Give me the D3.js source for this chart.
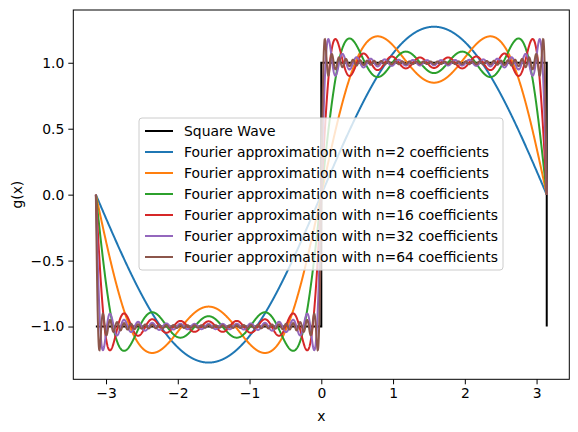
<!DOCTYPE html>
<html><head><meta charset="utf-8">
<script src="https://d3js.org/d3.v7.min.js"></script>
<style>body{margin:0;background:#fff}text{font-family:"DejaVu Sans";}</style>
</head><body><svg id="c" width="578" height="432"></svg>
<script>
// number of coefficients per approximation, and their colours
var nCoeffs = [2, 4, 8, 16, 32, 64];
var colors = ["#1f77b4", "#ff7f0e", "#2ca02c", "#d62728", "#9467bd", "#8c564b"];
var xTicks = [-3, -2, -1, 0, 1, 2, 3];
var yTicks = [-1.0, -0.5, 0.0, 0.5, 1.0];
var squareWave = [[-Math.PI, -1], [0, -1], [0, 1], [Math.PI, 1], [Math.PI, -1]];

var svg = d3.select("#c");
var L = 73.3, R = 569.3, T = 10, B = 379.3;
var x = d3.scaleLinear().domain([-3.456, 3.456]).range([L, R]);
var y = d3.scaleLinear().domain([-1.4, 1.4]).range([B, T]);

// partial Fourier sum of the square wave: odd harmonics below n
function fourier(n) {
  var pts = [];
  for (var i = 0; i <= 2000; i++) {
    var t = -Math.PI + 2 * Math.PI * i / 2000, s = 0;
    for (var k = 1; k < n; k += 2) s += Math.sin(k * t) / k;
    pts.push([t, 4 / Math.PI * s]);
  }
  return pts;
}

var line = d3.line().x(function(d){ return x(d[0]); }).y(function(d){ return y(d[1]); });
var g = svg.append("g");
g.append("path").attr("d", line(squareWave)).attr("fill","none").attr("stroke","#000").attr("stroke-width",2);
nCoeffs.forEach(function(n, i){
  g.append("path").attr("d", line(fourier(n))).attr("fill","none")
    .attr("stroke", colors[i]).attr("stroke-width", 2);
});

svg.append("rect").attr("x",L).attr("y",T).attr("width",R-L).attr("height",B-T)
  .attr("fill","none").attr("stroke","#000").attr("stroke-width",1);

var xa = svg.append("g").attr("transform","translate(0,"+B+")")
  .call(d3.axisBottom(x).tickValues(xTicks).tickSize(5).tickPadding(4).tickFormat(function(d){ return d < 0 ? "\u2212" + (-d) : d; }));
var ya = svg.append("g").attr("transform","translate("+L+",0)")
  .call(d3.axisLeft(y).tickValues(yTicks).tickSize(5).tickPadding(4).tickFormat(function(d){ var s = Math.abs(d).toFixed(1); return d < 0 ? "\u2212" + s : s; }));
[xa, ya].forEach(function(a){
  a.select(".domain").remove();
  a.selectAll("text").attr("font-size", 13.9).attr("fill","#000").attr("font-family","DejaVu Sans");
  a.selectAll("line").attr("stroke","#000");
});
svg.append("text").attr("x",(L+R)/2).attr("y",421).attr("text-anchor","middle").attr("font-size",13.9).text("x");
svg.append("text").attr("transform","translate(22,"+((T+B)/2)+") rotate(-90)").attr("text-anchor","middle").attr("font-size",13.9).text("g(x)");

// legend
var labels = ["Square Wave"].concat(nCoeffs.map(function(n){ return "Fourier approximation with n=" + n + " coefficients"; }));
var lcolors = ["#000"].concat(colors);
var lg = svg.append("g");
lg.append("rect").attr("x",139).attr("y",118).attr("width",364).attr("height",152).attr("rx",3)
  .attr("fill","#fff").attr("fill-opacity",0.8).attr("stroke","#ccc");
labels.forEach(function(t, i){
  var yy = 131 + i * 21;
  lg.append("line").attr("x1",145).attr("x2",173).attr("y1",yy).attr("y2",yy).attr("stroke",lcolors[i]).attr("stroke-width",2);
  lg.append("text").attr("x",184).attr("y",yy+5).attr("font-size",13.9).text(t);
});
</script></body></html>
